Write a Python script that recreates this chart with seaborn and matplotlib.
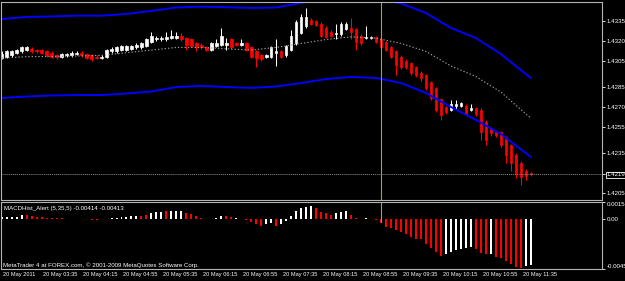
import matplotlib
matplotlib.use("Agg")
import numpy as np
import pandas as pd
import matplotlib.pyplot as plt
import matplotlib.transforms as mtrans
import seaborn as sns

# EURUSD M5, 20 May 2011 02:55 .. 11:45 (107 bars)
opens = [
    1.4307, 1.4308, 1.4309, 1.4311, 1.4312, 1.4313, 1.4314, 1.4313, 1.4313, 1.4312,
    1.4311, 1.4309, 1.4308, 1.4309, 1.4309, 1.4310, 1.4311, 1.4310, 1.4309, 1.4308,
    1.4307, 1.4308, 1.4312, 1.4312, 1.4313, 1.4313, 1.4314, 1.4315, 1.4315, 1.4316,
    1.4319, 1.4321, 1.4321, 1.4321, 1.4322, 1.4322, 1.4324, 1.4322, 1.4321, 1.4318,
    1.4317, 1.4315, 1.4313, 1.4316, 1.4317, 1.4317, 1.4321, 1.4318, 1.4317, 1.4318,
    1.4315, 1.4312, 1.4309, 1.4308, 1.4308, 1.4311, 1.4312, 1.4309, 1.4313, 1.4318,
    1.4326, 1.4331, 1.4336, 1.4335, 1.4333, 1.4330, 1.4327, 1.4325, 1.4325, 1.4329,
    1.4330, 1.4329, 1.4324, 1.4322, 1.4322, 1.4323, 1.4321, 1.4319, 1.4315, 1.4312,
    1.4308, 1.4305, 1.4303, 1.4300, 1.4296, 1.4294, 1.4289, 1.4284, 1.4276, 1.4270,
    1.4268, 1.4271, 1.4271, 1.4271, 1.4268, 1.4269, 1.4268, 1.4259, 1.4253, 1.4251,
    1.4251, 1.4247, 1.4241, 1.4234, 1.4228, 1.4222, 1.4220,
]
closes = [
    1.4310, 1.4312, 1.4312, 1.4313, 1.4315, 1.4315, 1.4312, 1.4312, 1.4311, 1.4309,
    1.4308, 1.4308, 1.4310, 1.4310, 1.4311, 1.4311, 1.4309, 1.4307, 1.4306, 1.4307,
    1.4308, 1.4313, 1.4314, 1.4315, 1.4316, 1.4316, 1.4316, 1.4317, 1.4318, 1.4321,
    1.4324, 1.4322, 1.4322, 1.4323, 1.4324, 1.4324, 1.4321, 1.4317, 1.4316, 1.4315,
    1.4315, 1.4313, 1.4318, 1.4318, 1.4324, 1.4318, 1.4315, 1.4317, 1.4318, 1.4313,
    1.4308, 1.4307, 1.4306, 1.4309, 1.4315, 1.4312, 1.4308, 1.4316, 1.4324, 1.4334,
    1.4338, 1.4338, 1.4333, 1.4332, 1.4324, 1.4323, 1.4324, 1.4326, 1.4333, 1.4333,
    1.4327, 1.4319, 1.4318, 1.4323, 1.4323, 1.4319, 1.4315, 1.4313, 1.4308, 1.4302,
    1.4300, 1.4300, 1.4296, 1.4294, 1.4292, 1.4284, 1.4277, 1.4268, 1.4264, 1.4266,
    1.4272, 1.4272, 1.4273, 1.4265, 1.4269, 1.4265, 1.4251, 1.4245, 1.4250, 1.4249,
    1.4241, 1.4234, 1.4228, 1.4220, 1.4217, 1.4218, 1.4219,
]
highs = [
    1.4312, 1.4313, 1.4313, 1.4314, 1.4316, 1.4316, 1.4315, 1.4314, 1.4314, 1.4313,
    1.4312, 1.4310, 1.4311, 1.4311, 1.4312, 1.4312, 1.4312, 1.4311, 1.4310, 1.4309,
    1.4309, 1.4314, 1.4315, 1.4316, 1.4317, 1.4317, 1.4317, 1.4318, 1.4319, 1.4322,
    1.4327, 1.4324, 1.4324, 1.4327, 1.4328, 1.4327, 1.4326, 1.4323, 1.4322, 1.4319,
    1.4318, 1.4316, 1.4319, 1.4321, 1.4330, 1.4322, 1.4322, 1.4319, 1.4321, 1.4319,
    1.4316, 1.4313, 1.4310, 1.4310, 1.4316, 1.4321, 1.4313, 1.4317, 1.4328, 1.4336,
    1.4340, 1.4345, 1.4337, 1.4336, 1.4334, 1.4331, 1.4328, 1.4333, 1.4334, 1.4334,
    1.4337, 1.4330, 1.4325, 1.4331, 1.4324, 1.4324, 1.4322, 1.4320, 1.4316, 1.4313,
    1.4309, 1.4306, 1.4304, 1.4301, 1.4297, 1.4295, 1.4290, 1.4285, 1.4277, 1.4271,
    1.4275, 1.4275, 1.4274, 1.4272, 1.4272, 1.4270, 1.4269, 1.4260, 1.4254, 1.4252,
    1.4252, 1.4248, 1.4242, 1.4235, 1.4229, 1.4223, 1.4221,
]
lows = [
    1.4306, 1.4307, 1.4308, 1.4310, 1.4311, 1.4312, 1.4311, 1.4311, 1.4310, 1.4308,
    1.4307, 1.4306, 1.4307, 1.4308, 1.4308, 1.4309, 1.4308, 1.4306, 1.4305, 1.4306,
    1.4306, 1.4307, 1.4311, 1.4311, 1.4312, 1.4312, 1.4313, 1.4314, 1.4314, 1.4315,
    1.4318, 1.4320, 1.4320, 1.4320, 1.4321, 1.4321, 1.4320, 1.4313, 1.4315, 1.4312,
    1.4314, 1.4312, 1.4312, 1.4315, 1.4316, 1.4313, 1.4314, 1.4316, 1.4316, 1.4312,
    1.4307, 1.4300, 1.4305, 1.4307, 1.4307, 1.4301, 1.4307, 1.4308, 1.4312, 1.4317,
    1.4325, 1.4330, 1.4332, 1.4331, 1.4323, 1.4322, 1.4323, 1.4321, 1.4324, 1.4328,
    1.4321, 1.4313, 1.4317, 1.4321, 1.4321, 1.4318, 1.4314, 1.4312, 1.4307, 1.4294,
    1.4299, 1.4299, 1.4294, 1.4293, 1.4290, 1.4283, 1.4275, 1.4266, 1.4260, 1.4265,
    1.4267, 1.4268, 1.4270, 1.4264, 1.4267, 1.4263, 1.4245, 1.4241, 1.4248, 1.4247,
    1.4240, 1.4228, 1.4222, 1.4216, 1.4211, 1.4215, 1.4218,
]

# envelope lines, read every 5 bars
band_bars = [0, 5, 10, 15, 20, 25, 30, 35, 40, 45, 50, 55, 60, 65, 70, 75, 80, 85, 90, 95, 100, 105, 106]
band_upper = [1.43365, 1.4338, 1.43384, 1.4339, 1.4339, 1.43403, 1.43426, 1.43452, 1.43458, 1.43454, 1.43448, 1.43452,
              1.43486, 1.43516, 1.43531, 1.4352, 1.43482, 1.4341, 1.43297, 1.43221, 1.4310, 1.42949, 1.42919]
band_mid = [1.4307, 1.4308, 1.43082, 1.43085, 1.4309, 1.4311, 1.4313, 1.4315, 1.4315, 1.4314, 1.4313, 1.4315,
            1.4318, 1.4321, 1.4323, 1.4322, 1.4318, 1.4312, 1.4301, 1.4293, 1.42813, 1.42647, 1.42617]
band_lower = [1.42768, 1.42779, 1.42787, 1.4279, 1.4279, 1.42802, 1.42817, 1.42851, 1.42859, 1.42851, 1.42844, 1.42855,
              1.42881, 1.42911, 1.42927, 1.42919, 1.42881, 1.42806, 1.4270, 1.42602, 1.42496, 1.42352, 1.42322]

macd_hist = [
    0.00014, 0.00014, 0.00018, 0.00018, 0.00032, 0.00032, 0.00027, 0.00018, 0.00014, 0.00009,
    0.00006, 0.00005, 0.00005, 0.00003, 0.00003, 0.00002, -0.00003, -0.00005, -0.00009, -0.00009,
    -0.00003, 0.00003, 0.00007, 0.00009, 0.00014, 0.00018, 0.00023, 0.00023, 0.00030, 0.00036,
    0.00052, 0.00061, 0.00066, 0.00073, 0.00075, 0.00075, 0.00075, 0.00052, 0.00043, 0.00030,
    0.00012, 0.00003, 0.00003, 0.00012, 0.00027, 0.00027, 0.00018, 0.00012, 0.00003, -0.00006,
    -0.00030, -0.00048, -0.00061, -0.00048, -0.00039, -0.00061, -0.00048, -0.00018, 0.00030, 0.00073,
    0.00097, 0.00106, 0.00121, 0.00102, 0.00066, 0.00052, 0.00036, 0.00052, 0.00066, 0.00073,
    0.00036, 0.00006, -0.00003, 0.00006, 0.00002, -0.00006, -0.00039, -0.00070, -0.00084, -0.00100,
    -0.00115, -0.00139, -0.00161, -0.00181, -0.00185, -0.00229, -0.00266, -0.00297, -0.00333, -0.00320,
    -0.00297, -0.00281, -0.00272, -0.00266, -0.00251, -0.00272, -0.00311, -0.00320, -0.00318, -0.00342,
    -0.00356, -0.00381, -0.00411, -0.00433, -0.00442, -0.00430, -0.00414,
]
macd_colors = ("wwwww" "rrrrrrrrrrrrrrr" "wwwwwwww" "rr" "www" "r" "www" "rrrrrr" "ww" "rr" "w" "rrrrr"
               "ww" "r" "wwwwwww" "rrrr" "www" "rrr" "ww" "rrrrrrrrrrrrrr" "wwwwww" "rrr" "w" "rrrrrr" "ww")

price_ticks = [1.4335, 1.4320, 1.4305, 1.4285, 1.4270, 1.4255, 1.4235, 1.4219, 1.4205]
macd_ticks = [0.00158, 0.0, -0.00454]
macd_tick_labels = ["0.00158", "0.00", "-0.00454"]
time_bars = [0, 8, 16, 24, 32, 40, 48, 56, 64, 72, 80, 88, 96, 104]
time_labels = ["20 May 2011", "20 May 03:35", "20 May 04:15", "20 May 04:55", "20 May 05:35",
               "20 May 06:15", "20 May 06:55", "20 May 07:35", "20 May 08:15", "20 May 08:55",
               "20 May 09:35", "20 May 10:15", "20 May 10:55", "20 May 11:35"]
separator_bar = 76
indicator_title = "MACDHist_Alert (5,35,5) -0.00414 -0.00413"
copyright_text = "MetaTrader 4 at FOREX.com, \u00a9 2001-2009 MetaQuotes Software Corp."

sns.set_style("dark", {"axes.facecolor": "black", "figure.facecolor": "black",
                       "axes.edgecolor": "#b4b4b4", "text.color": "white",
                       "xtick.color": "white", "ytick.color": "white", "axes.grid": False})
plt.rcParams["font.family"] = ["Liberation Sans", "DejaVu Sans"]
FS = 4.4
FS_TIME = 4.1

df = pd.DataFrame({"open": opens, "high": highs, "low": lows, "close": closes})
df["bar"] = np.arange(len(df))
df["color"] = np.where(df["close"] >= df["open"], "white", "red")
bands = pd.DataFrame({"bar": band_bars, "upper": band_upper, "mid": band_mid, "lower": band_lower})

W, H = 625, 281
fig = plt.figure(figsize=(W / 100, H / 100), dpi=100)


def box(l, t, r, b):
    return [l / W, 1 - b / H, (r - l) / W, (b - t) / H]


ax = fig.add_axes(box(1, 1.5, 602, 199.5))
axm = fig.add_axes(box(1, 201.5, 602, 269))
xlim = (-0.14, 120.26)

# price panel
ax.vlines(df["bar"], df["low"], df["high"], colors=df["color"], linewidth=0.75)
ax.bar(df["bar"], df["close"] - df["open"], bottom=df["open"], width=0.5,
       color=df["color"], edgecolor=df["color"], linewidth=0.5)
sns.lineplot(data=bands, x="bar", y="upper", color="#0000ff", linewidth=1.4, ax=ax)
sns.lineplot(data=bands, x="bar", y="lower", color="#0000ff", linewidth=1.4, ax=ax)
sns.lineplot(data=bands, x="bar", y="mid", color="#a0a0a0", linewidth=0.8, linestyle=(0, (1.2, 1.8)), ax=ax)
ax.axhline(closes[-1], color="#8c8c8c", linewidth=0.7, linestyle=(0, (1, 1)))
ax.axvline(separator_bar, color="#a0a050", linewidth=0.8)

ax.set_xlim(*xlim)
ax.set_ylim(1.42001, 1.43497)
ax.set_xticks([])
ax.yaxis.tick_right()
ax.set_yticks(price_ticks)
ax.set_yticklabels([f"{p:.4f}" for p in price_ticks])
ax.tick_params(axis="y", length=2, width=0.6, pad=1.5, labelsize=FS, colors="white")
for lbl in ax.get_yticklabels():
    if lbl.get_text() == f"{closes[-1]:.4f}":
        lbl.set_bbox(dict(boxstyle="square,pad=0.15", fc="black", ec="white", lw=0.6))
ax.set_xlabel("")
ax.set_ylabel("")

# MACD panel
mcol = ["white" if c == "w" else "red" for c in macd_colors]
axm.bar(np.arange(len(macd_hist)), macd_hist, width=0.4, color=mcol, linewidth=0)
axm.axvline(separator_bar, ymin=0.7, color="#a0a050", linewidth=0.8)
axm.set_xlim(*xlim)
axm.set_ylim(-0.00454, 0.00158)
axm.yaxis.tick_right()
axm.set_yticks(macd_ticks)
axm.set_yticklabels(macd_tick_labels)
axm.tick_params(axis="y", length=2, width=0.6, pad=1.5, labelsize=FS, colors="white")
labs = axm.get_yticklabels()
labs[0].set_va("top")
labs[-1].set_va("bottom")
axm.set_xticks(time_bars)
axm.set_xticklabels([])
axm.tick_params(axis="x", length=6, width=0.6, direction="out", colors="white")
for b, t in zip(time_bars, time_labels):
    axm.text(b + 0.35, -0.05, t, transform=mtrans.blended_transform_factory(axm.transData, axm.transAxes),
             ha="left", va="top", fontsize=FS_TIME, color="white", clip_on=False)
axm.text(0.005, 0.9, indicator_title, transform=axm.transAxes, fontsize=FS, color="white", va="center")
axm.text(0.003, 0.06, copyright_text, transform=axm.transAxes, fontsize=FS, color="white", va="center")

for a in (ax, axm):
    for s in a.spines.values():
        s.set_linewidth(0.8)
        s.set_color("#b4b4b4")

fig.savefig("out.png", dpi=100, facecolor="black")
